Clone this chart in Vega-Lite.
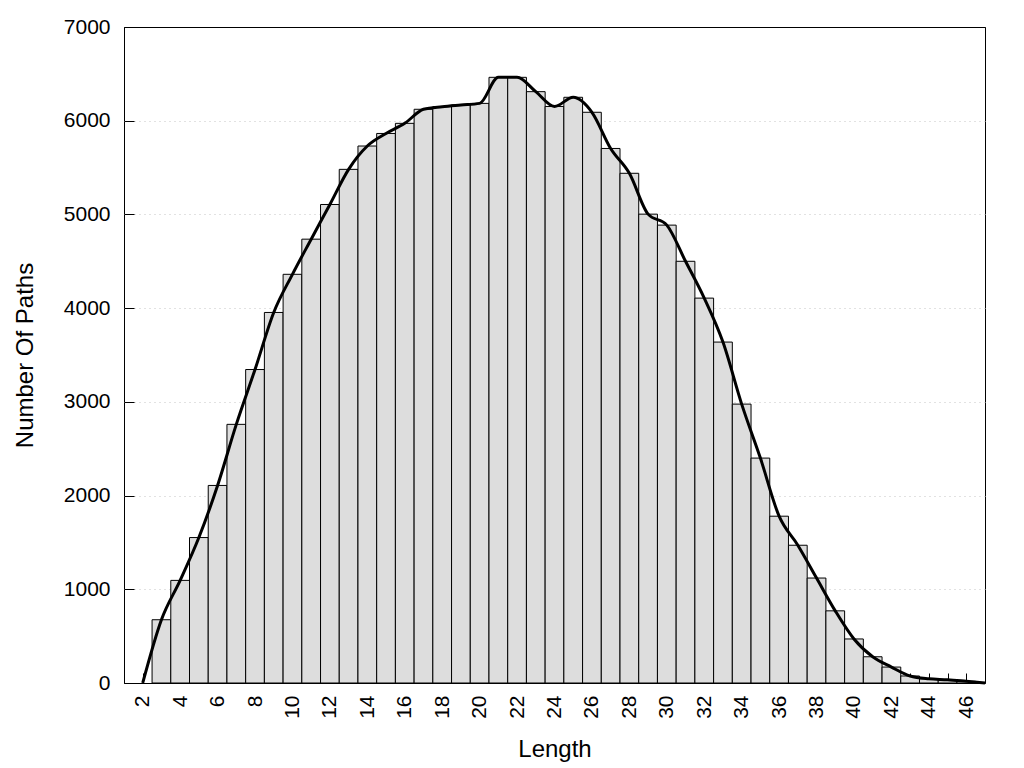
{
  "$schema": "https://vega.github.io/schema/vega-lite/v6.json",
  "width": 861,
  "height": 656,
  "autosize": "none",
  "padding": {"left": 124, "top": 27, "right": 39, "bottom": 85},
  "background": "white",
  "config": {
    "view": {"stroke": "black", "strokeWidth": 1},
    "font": "Liberation Sans",
    "axis": {
      "labelFont": "Liberation Sans",
      "titleFont": "Liberation Sans",
      "labelColor": "black",
      "titleColor": "black",
      "titleFontWeight": "normal",
      "tickColor": "black",
      "domain": false
    }
  },
  "data": {
    "values": [
      {"Length": 2, "Paths": 0},
      {"Length": 3, "Paths": 675},
      {"Length": 4, "Paths": 1095},
      {"Length": 5, "Paths": 1552},
      {"Length": 6, "Paths": 2108},
      {"Length": 7, "Paths": 2760},
      {"Length": 8, "Paths": 3345},
      {"Length": 9, "Paths": 3954},
      {"Length": 10, "Paths": 4361},
      {"Length": 11, "Paths": 4736},
      {"Length": 12, "Paths": 5106},
      {"Length": 13, "Paths": 5481},
      {"Length": 14, "Paths": 5730},
      {"Length": 15, "Paths": 5864},
      {"Length": 16, "Paths": 5972},
      {"Length": 17, "Paths": 6122},
      {"Length": 18, "Paths": 6150},
      {"Length": 19, "Paths": 6168},
      {"Length": 20, "Paths": 6185},
      {"Length": 21, "Paths": 6463},
      {"Length": 22, "Paths": 6463},
      {"Length": 23, "Paths": 6310},
      {"Length": 24, "Paths": 6152},
      {"Length": 25, "Paths": 6250},
      {"Length": 26, "Paths": 6090},
      {"Length": 27, "Paths": 5704},
      {"Length": 28, "Paths": 5439},
      {"Length": 29, "Paths": 5003},
      {"Length": 30, "Paths": 4886},
      {"Length": 31, "Paths": 4500},
      {"Length": 32, "Paths": 4107},
      {"Length": 33, "Paths": 3638},
      {"Length": 34, "Paths": 2976},
      {"Length": 35, "Paths": 2400},
      {"Length": 36, "Paths": 1780},
      {"Length": 37, "Paths": 1470},
      {"Length": 38, "Paths": 1120},
      {"Length": 39, "Paths": 770},
      {"Length": 40, "Paths": 470},
      {"Length": 41, "Paths": 280},
      {"Length": 42, "Paths": 170},
      {"Length": 43, "Paths": 75},
      {"Length": 44, "Paths": 45},
      {"Length": 45, "Paths": 35},
      {"Length": 46, "Paths": 18},
      {"Length": 47, "Paths": 0}
    ]
  },
  "encoding": {
    "x": {
      "field": "Length",
      "type": "quantitative",
      "scale": {"domain": [1, 47], "nice": false, "zero": false, "padding": 0},
      "axis": {
        "title": "Length",
        "values": [2,3,4,5,6,7,8,9,10,11,12,13,14,15,16,17,18,19,20,21,22,23,24,25,26,27,28,29,30,31,32,33,34,35,36,37,38,39,40,41,42,43,44,45,46],
        "labelExpr": "datum.value % 2 == 0 ? datum.label : ''",
        "labelAngle": -90,
        "labelAlign": "right",
        "labelBaseline": "middle",
        "labelFontSize": 21,
        "labelPadding": 12,
        "offset": -10,
        "tickSize": 10,
        "titleFontSize": 24,
        "titlePadding": 19,
        "grid": false,
        "labelOverlap": false
      }
    },
    "y": {
      "field": "Paths",
      "type": "quantitative",
      "scale": {"domain": [0, 7000], "nice": false, "padding": 0},
      "axis": {
        "title": "Number Of Paths",
        "values": [0,1000,2000,3000,4000,5000,6000,7000],
        "format": "d",
        "labelFontSize": 21,
        "labelPadding": 14,
        "offset": -10,
        "tickSize": 10,
        "titleFontSize": 24,
        "titlePadding": 26,
        "grid": true,
        "gridColor": {"condition": {"test": "datum.value == 0 || datum.value == 7000", "value": "black"}, "value": "#c4c4c4"},
        "gridDash": [1, 4],
        "gridWidth": 1
      }
    }
  },
  "layer": [
    {
      "transform": [{"filter": "datum.Paths > 0"}],
      "mark": {"type": "bar", "width": 18.72, "fill": "#dddddd", "stroke": "black", "strokeWidth": 1},
      "encoding": {}
    },
    {
      "mark": {"type": "line", "color": "black", "strokeWidth": 3, "interpolate": "monotone"},
      "encoding": {}
    }
  ]
}
